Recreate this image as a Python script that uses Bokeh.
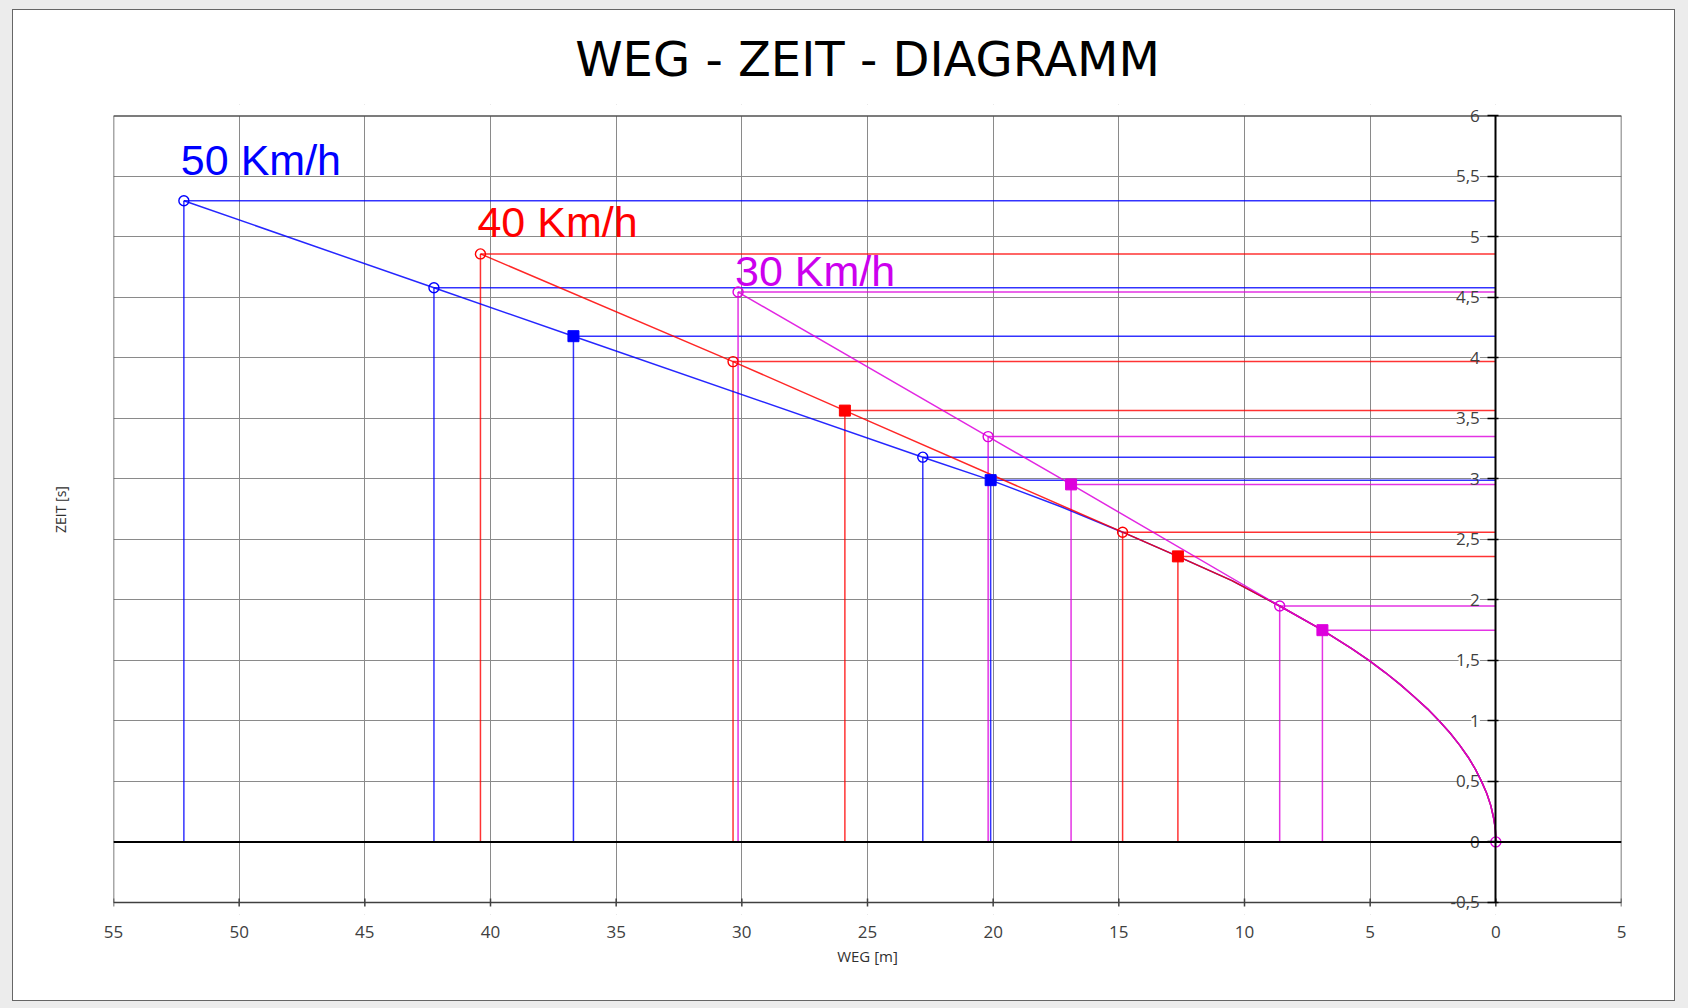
import math
from bokeh.plotting import figure
from bokeh.models import (Range1d, FixedTicker, CustomJSTickFormatter, Span,
                          LabelSet, ColumnDataSource, LinearAxis, BoxAnnotation)
from bokeh.core.properties import value
from bokeh.embed import file_html
from bokeh.resources import INLINE

# ---------------- data ----------------
title_text = "WEG - ZEIT - DIAGRAMM"
x_label = "WEG [m]"
y_label = "ZEIT [s]"

x_ticks = [-55, -50, -45, -40, -35, -30, -25, -20, -15, -10, -5, 0, 5]
y_ticks = [-0.5, 0, 0.5, 1, 1.5, 2, 2.5, 3, 3.5, 4, 4.5, 5, 5.5, 6]
y_tick_labels = ["-0,5", "0", "0,5", "1", "1,5", "2", "2,5", "3", "3,5",
                 "4", "4,5", "5", "5,5", "6"]

speed_labels = ["50 Km/h", "40 Km/h", "30 Km/h"]

# distance before the stopping point [m] and time [s]
blue_s = [52.2, 42.25, 36.7, 22.8, 20.1]
blue_t = [5.30, 4.58, 4.18, 3.18, 2.99]
blue_kind = ["o", "o", "s", "o", "s"]

red_s = [40.4, 30.35, 25.9, 14.85, 12.65]
red_t = [4.86, 3.97, 3.565, 2.56, 2.36]
red_kind = ["o", "o", "s", "o", "s"]

pink_s = [30.15, 20.2, 16.9, 8.6, 6.9, 0.0]
pink_t = [4.545, 3.35, 2.955, 1.95, 1.75, 0.0]
pink_kind = ["o", "o", "s", "o", "s", "o"]

# common braking curve
brake_s = [22.8, 20.1, 17.3, 14.85, 12.65, 10.5, 8.6, 6.9, 5.75, 5.05, 4.4,
           3.8, 3.25, 2.72, 2.25, 1.82, 1.44, 1.1, 0.81, 0.57, 0.36, 0.2,
           0.09, 0.05, 0.02, 0.006, 0.0]
brake_t = [3.18, 2.99, 2.77, 2.56, 2.36, 2.16, 1.95, 1.75, 1.6, 1.5, 1.4,
           1.3, 1.2, 1.1, 1.0, 0.9, 0.8, 0.7, 0.6, 0.5, 0.4, 0.3,
           0.2, 0.15, 0.1, 0.05, 0.0]

BLUE = "#0000ff"
RED = "#ff0000"
PINK = "#dd00dd"
PINK_TXT = "#cc00ee"
EDGE = "#505050"

xmin, xmax = x_ticks[0], x_ticks[-1]
ymin, ymax = y_ticks[0], y_ticks[-1]

# ---------------- figure ----------------
# the y range has a little extra room so that the end labels are not clipped
p = figure(width=1663, height=992, output_backend="svg", toolbar_location=None,
           x_range=Range1d(xmin, xmax), y_range=Range1d(ymin - 0.1, ymax + 0.095),
           min_border_left=100, min_border_right=55, min_border_top=85,
           min_border_bottom=88, background_fill_color="white",
           border_fill_color="white", title=title_text,
           styles={"border": "1px solid #666666",
                   "margin": "9px 0px 0px 12px",
                   "box-shadow": "0px 0px 0px 24px #ececec"})

p.title.align = "center"
p.title.text_font = "DejaVu Sans"
p.title.text_font_size = "48px"
p.title.text_font_style = "normal"
p.title.text_color = "#000000"
p.title.standoff = 36

p.outline_line_color = None

# grid
p.xgrid.ticker = FixedTicker(ticks=x_ticks)
p.ygrid.ticker = FixedTicker(ticks=y_ticks)
p.grid.grid_line_color = "#8a8a8a"
p.grid.grid_line_width = 1

# white strips above / below the chart box (hide the grid ends)
p.add_layout(BoxAnnotation(bottom=ymax, fill_color="white", fill_alpha=1,
                           line_color=None, level="underlay"))
p.add_layout(BoxAnnotation(top=ymin, fill_color="white", fill_alpha=1,
                           line_color=None, level="underlay"))

# bottom axis (labels only; its line is drawn at y = -0.5 below)
xa = p.xaxis[0]
xa.ticker = FixedTicker(ticks=x_ticks)
xa.formatter = CustomJSTickFormatter(code="return Math.abs(tick).toString();")
xa.axis_line_color = None
xa.major_tick_line_color = None
xa.major_tick_in = 0
xa.major_tick_out = 0
xa.minor_tick_line_color = None
xa.major_label_text_font = "Open Sans"
xa.major_label_text_font_size = "17px"
xa.major_label_text_color = "#404040"
xa.major_label_standoff = 11
xa.axis_label = x_label
xa.axis_label_text_font = "Open Sans"
xa.axis_label_text_font_size = "15px"
xa.axis_label_text_font_style = "normal"
xa.axis_label_text_color = "#303030"
xa.axis_label_standoff = 5

# left axis: only its title
ya = p.yaxis[0]
ya.ticker = FixedTicker(ticks=[])
ya.axis_line_color = None
ya.major_tick_line_color = None
ya.minor_tick_line_color = None
ya.axis_label = y_label
ya.axis_label_text_font = "Open Sans"
ya.axis_label_text_font_size = "14px"
ya.axis_label_text_font_style = "normal"
ya.axis_label_text_color = "#303030"
ya.axis_label_standoff = 44

# y axis drawn at x = 0 inside the plot
zero_axis = LinearAxis(
    fixed_location=0, bounds=(ymin, ymax),
    ticker=FixedTicker(ticks=y_ticks),
    formatter=CustomJSTickFormatter(
        args=dict(tvals=y_ticks, tlabels=y_tick_labels),
        code="const i = tvals.indexOf(tick); return i >= 0 ? tlabels[i] : '';"),
    axis_line_color="#000000", axis_line_width=2,
    major_tick_line_color="#000000", major_tick_line_width=1.5,
    major_tick_in=3, major_tick_out=8,
    minor_tick_line_color=None,
    major_label_standoff=8,
    major_label_text_font="Open Sans", major_label_text_font_size="17px",
    major_label_text_color="#404040")
p.add_layout(zero_axis, "left")

# white boxes behind the y tick labels (hide the grid there)
box_src = ColumnDataSource(dict(x=[0] * len(y_ticks), y=y_ticks, text=y_tick_labels))
boxes = LabelSet(x="x", y="y", text="text", source=box_src, x_offset=-16,
                 text_align="right", text_baseline="middle",
                 text_font="Open Sans", text_font_size="17px", text_alpha=0,
                 background_fill_color="white", level="underlay")
p.add_layout(boxes)

# chart box edges and bottom axis line with ticks
p.segment(x0=[xmin, xmax, xmin], y0=[ymin, ymin, ymax],
          x1=[xmin, xmax, xmax], y1=[ymax, ymax, ymax],
          line_color=EDGE, line_width=1.5)
p.segment(x0=[xmin], y0=[ymin], x1=[xmax], y1=[ymin],
          line_color="#404040", line_width=1.5)
p.scatter(x=x_ticks, y=[ymin] * len(x_ticks), marker="dash", angle=math.pi / 2,
          size=8, line_color="#404040", line_width=1.5)

series = [
    (blue_s, blue_t, blue_kind, BLUE, 0),
    (red_s, red_t, red_kind, RED, 1),
    (pink_s, pink_t, pink_kind, PINK, 2),
]

# drop lines
for s, t, kind, col, _ in series:
    xs = [-v for v, tt in zip(s, t) if tt > 0]
    ts = [tt for tt in t if tt > 0]
    p.segment(x0=xs, y0=ts, x1=[0] * len(xs), y1=ts, line_color=col,
              line_width=1.5, line_alpha=0.8)
    p.segment(x0=xs, y0=ts, x1=xs, y1=[0] * len(xs), line_color=col,
              line_width=1.5, line_alpha=0.8)

# series lines: straight part then common braking curve
for s, t, kind, col, _ in series:
    last = s[[i for i, tt in enumerate(t) if tt > 0 and kind[i] == "o"][-1]]
    start = brake_s.index(last)
    lx = [-v for v in s if v > last] + [-v for v in brake_s[start:]]
    ly = [tt for v, tt in zip(s, t) if v > last] + brake_t[start:]
    p.line(lx, ly, line_color=col, line_width=1.5, line_alpha=0.85)

# markers
for s, t, kind, col, _ in series:
    cx = [-v for v, k in zip(s, kind) if k == "o"]
    cy = [tt for tt, k in zip(t, kind) if k == "o"]
    sx = [-v for v, k in zip(s, kind) if k == "s"]
    sy = [tt for tt, k in zip(t, kind) if k == "s"]
    p.scatter(cx, cy, marker="circle", size=10, fill_color=None,
              line_color=col, line_width=1.4)
    p.scatter(sx, sy, marker="square", size=11, fill_color=col,
              line_color=col)

# speed labels near the first point of each series
label_offsets = [-41, -32, -21]
label_colors = [BLUE, RED, PINK_TXT]
for (s, t, kind, col, i), lab in zip(series, speed_labels):
    p.text(x=[-s[0]], y=[t[0]], text=[lab], x_offset=-3, y_offset=label_offsets[i],
           text_align="left", text_baseline="alphabetic",
           text_font=value("Liberation Sans"), text_font_size="43px",
           text_color=label_colors[i])

# black zero line
p.add_layout(Span(location=0, dimension="width", line_color="#000000", line_width=2))

open("out.html", "w").write(file_html(p, INLINE))
